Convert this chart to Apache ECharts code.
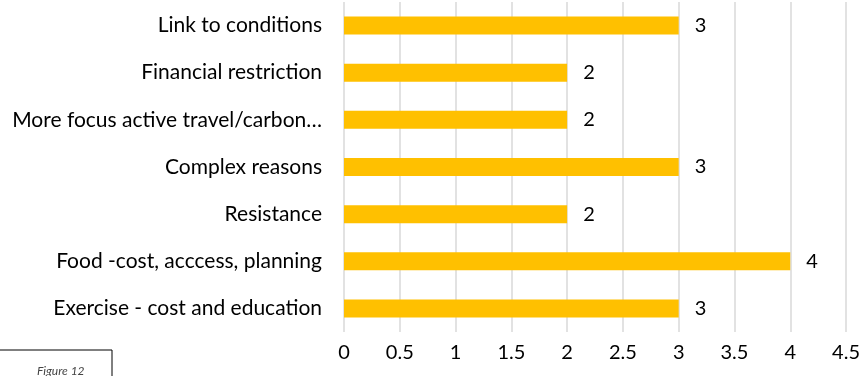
<!DOCTYPE html>
<html>
<head>
<meta charset="utf-8">
<script src="https://cdn.jsdelivr.net/npm/echarts@6/dist/echarts.min.js"></script>
<style>
html,body{margin:0;padding:0;background:#fff;}
#chart{width:863px;height:376px;}
</style>
</head>
<body>
<div id="chart"></div>
<script>
const categories = [
  "Exercise - cost and education",
  "Food -cost, acccess, planning",
  "Resistance",
  "Complex reasons",
  "More focus active travel/carbon\u2026",
  "Financial restriction",
  "Link to conditions"
];
const values = [3, 4, 2, 3, 2, 2, 3];
const xMin = 0, xMax = 4.5, xStep = 0.5;
const figureLabel = "Figure 12";

const FONT = "Lato, 'Open Sans', sans-serif";
const chart = echarts.init(document.getElementById('chart'));
chart.setOption({
  animation: false,
  grid: { left: 344, right: 15, top: 2, bottom: 44, containLabel: false },
  xAxis: {
    type: 'value', min: xMin, max: xMax, interval: xStep,
    axisLine: { show: false }, axisTick: { show: false },
    splitLine: { show: true, lineStyle: { color: '#d9d9d9', width: 1.5 } },
    axisLabel: { color: '#000', fontSize: 20, fontFamily: FONT, margin: 11,
      formatter: v => String(v) }
  },
  yAxis: {
    type: 'category', data: categories,
    axisLine: { show: false }, axisTick: { show: false },
    axisLabel: { color: '#000', fontSize: 21, fontFamily: FONT, margin: 22 }
  },
  series: [{
    type: 'bar', data: values, barWidth: 18,
    itemStyle: { color: '#FFC000' },
    label: { show: true, position: 'right', distance: 16, color: '#000', fontSize: 20, fontFamily: FONT }
  }],
  graphic: [
    { type: 'polyline', shape: { points: [[0, 350], [112, 350], [112, 380]] },
      style: { stroke: '#000', lineWidth: 1, fill: null } },
    { type: 'text', left: 37, top: 365,
      style: { text: figureLabel, font: "italic 12px " + FONT, fill: '#444' } }
  ]
});
</script>
</body>
</html>
